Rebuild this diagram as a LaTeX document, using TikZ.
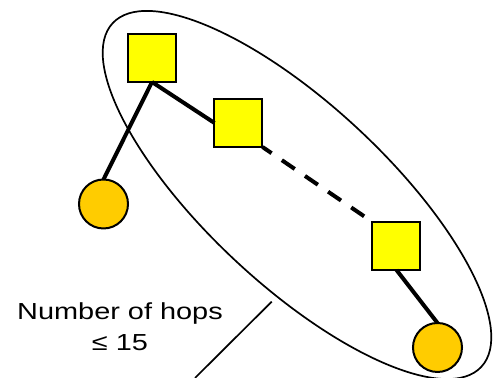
\documentclass[tikz,border=0pt]{standalone}
\usepackage{fontspec}
\usepackage{tikz}
\usetikzlibrary{arrows.meta,positioning,calc}
\newfontfamily\hopsfont[FakeStretch=1.245]{Liberation Sans}
\definecolor{hopyellow}{HTML}{FFFF00}
\definecolor{hostorange}{HTML}{FFCC00}
\definecolor{edgeink}{HTML}{000000}

\begin{document}
\begin{tikzpicture}[
  x=0.5pt,y=0.5pt,
  every node/.style={inner sep=0pt,outer sep=0pt},
  router/.style={draw=edgeink,fill=hopyellow,rectangle,minimum size=24pt,line width=1pt},
  host/.style={draw=edgeink,fill=hostorange,circle,minimum size=24.5pt,line width=1pt},
  link/.style={draw=edgeink,line width=2pt},
  farlink/.style={link,dash pattern=on 7.8pt off 6.2pt,dash phase=2.3pt},
  hoploop/.style={draw=edgeink,line width=0.85pt},
  hopslabel/.style={font=\hopsfont\fontsize{11.6}{15.5}\selectfont,align=center,anchor=north}
]
  \useasboundingbox (0,0) rectangle (495,378);
  \draw[hoploop,shift={(297,183)},rotate=-43] (0,0) ellipse [x radius=126pt,y radius=45pt];
  \coordinate (rim) at (271.7,76.3);
  \coordinate (foot) at (195,0);
  \draw[hoploop] (rim) -- (foot);
  \node[router] (r1) at (152,320) {};
  \node[router] (r2) at (238.5,255) {};
  \node[router] (r3) at (396.5,132) {};
  \node[host] (h1) at (103.5,174) {};
  \node[host] (h2) at (437.5,30.5) {};
  \node[hopslabel] (hops) at (120,75.5) {Number of hops\\≤ 15};
  \draw[link] (r1.south) -- (h1.north);
  \draw[link] (r1.south) -- (r2.west);
  \draw[farlink] (r2.south east) -- (r3.north west);
  \draw[link] (r3.south) -- (h2.north);
\end{tikzpicture}
\end{document}
